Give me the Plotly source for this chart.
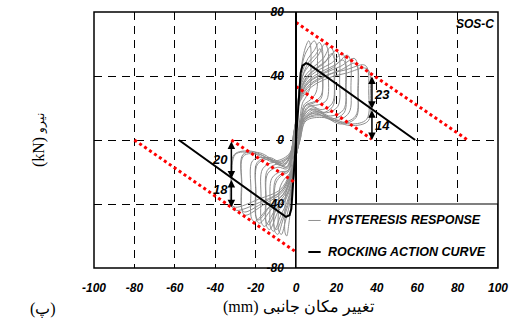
import plotly.graph_objects as go

# ---------------- data ----------------
x_ticks = [-100, -80, -60, -40, -20, 0, 20, 40, 60, 80, 100]
y_ticks = [-80, -40, 0, 40, 80]

# hysteresis response (continuous path, cycle by cycle)
hyst_c1 = [(-1.2,-22),(-0.2,0),(1.0,22),(2.2,40),(3.5,52),(5.0,59),(6.3,62),(7.2,59),(7.4,48),(7.0,33),(5.0,27),(3.2,23),(2.0,14),(0.8,2),(-0.4,-12),(-1.5,-28),(-2.6,-42),(-3.6,-53),(-4.6,-60),(-5.4,-58),(-5.5,-46),(-5.0,-33),(-3.5,-26),(-2.2,-20),(-1.2,-10),(-0.2,4),(0.8,20)]
hyst_c2 = [(1.8,36),(3.2,48),(5.0,55),(7.0,59),(9.0,62),(10.3,59),(10.6,46),(10.0,30),(7.0,25),(4.0,22),(2.4,13),(1.0,0),(-0.5,-16),(-1.8,-30),(-3.5,-42),(-5.5,-52),(-7.2,-59),(-8.5,-57),(-8.7,-44),(-8.0,-30),(-5.5,-24),(-3.2,-21),(-1.8,-12),(-0.5,2),(0.7,18)]
hyst_c3 = [(1.8,33),(3.5,44),(6.0,51),(9.0,56),(11.5,61),(12.9,58),(13.2,44),(12.5,28),(9.0,24),(5.0,22),(2.8,14),(1.2,0),(-0.4,-15),(-2.0,-30),(-4.0,-41),(-6.5,-50),(-9.0,-59),(-10.5,-57),(-10.8,-42),(-10.0,-27),(-7.0,-22),(-3.8,-20),(-2.0,-11),(-0.6,3),(0.6,17)]
hyst_c3b = [(1.8,31),(3.8,42),(6.5,49),(9.5,53),(11.8,57),(13.0,54),(13.2,40),(12.4,26),(8.5,23),(4.5,21),(2.6,13),(1.1,0),(-0.5,-15),(-2.1,-29),(-4.2,-40),(-7.0,-49),(-9.5,-56),(-10.8,-54),(-11.0,-40),(-10.2,-25),(-7.0,-21),(-3.8,-19),(-2.0,-10),(-0.6,3),(0.6,17)]
hyst_c4 = [(1.8,32),(4.0,42),(7.5,48),(11.0,53),(14.2,60),(15.7,57),(16.0,42),(15.2,25),(11.0,22),(6.0,21),(3.0,14),(1.3,0),(-0.5,-15),(-2.2,-29),(-4.5,-39),(-7.5,-47),(-11.0,-57),(-12.5,-55),(-12.8,-40),(-12.0,-24),(-8.0,-20),(-4.0,-19),(-2.1,-10),(-0.7,3),(0.5,16)]
hyst_c5 = [(1.8,31),(4.5,40),(9.0,46),(13.5,51),(17.0,58),(18.6,55),(18.9,40),(18.0,23),(13.0,19),(7.0,21),(3.2,14),(1.4,0),(-0.6,-15),(-2.4,-28),(-5.0,-37),(-9.0,-45),(-13.0,-56),(-14.5,-54),(-14.8,-38),(-14.0,-21),(-9.0,-17),(-4.5,-18),(-2.2,-9),(-0.8,3),(0.4,15)]
hyst_c5b = [(1.8,29),(4.8,38),(9.5,44),(14.0,48),(17.5,54),(18.9,51),(19.1,37),(18.2,21),(13.0,17),(7.0,19),(3.2,13),(1.4,0),(-0.6,-14),(-2.4,-27),(-5.2,-36),(-9.5,-43),(-13.5,-53),(-14.8,-51),(-15.0,-36),(-14.2,-19),(-9.0,-15),(-4.5,-17),(-2.2,-9),(-0.8,3),(0.4,15)]
hyst_c6 = [(1.9,30),(5.0,39),(10.0,45),(15.5,50),(19.8,56),(21.3,53),(21.6,38),(20.7,21),(15.0,17),(8.0,20),(3.4,14),(1.5,0),(-0.7,-15),(-2.6,-27),(-5.5,-36),(-10.5,-44),(-15.5,-54),(-17.0,-52),(-17.3,-36),(-16.5,-18),(-11.0,-14),(-5.0,-17),(-2.3,-9),(-0.9,3),(0.3,14)]
hyst_c7 = [(2.0,29),(5.5,38),(11.5,44),(17.5,48),(22.8,54),(24.3,51),(24.6,36),(23.6,19),(17.0,15),(9.0,19),(3.6,13),(1.6,0),(-0.8,-15),(-2.8,-26),(-6.0,-35),(-12.0,-43),(-18.0,-52),(-19.5,-50),(-19.8,-34),(-19.0,-15),(-13.0,-12),(-6.0,-16),(-2.5,-9),(-1.0,3),(0.2,14)]
hyst_c7b = [(2.0,27),(6.0,36),(12.0,41),(18.0,45),(23.2,50),(24.6,47),(24.8,33),(23.8,17),(17.0,13),(9.0,17),(3.6,12),(1.6,0),(-0.8,-14),(-2.8,-25),(-6.2,-34),(-12.5,-41),(-18.5,-50),(-19.8,-48),(-20.0,-32),(-19.2,-14),(-13.0,-11),(-6.0,-15),(-2.5,-9),(-1.0,3),(0.2,14)]
hyst_c8 = [(2.0,28),(6.0,37),(13.0,43),(19.5,47),(25.4,53),(26.9,50),(27.2,34),(26.2,17),(19.0,12),(10.0,18),(3.8,13),(1.7,0),(-0.9,-15),(-3.0,-25),(-6.5,-34),(-13.5,-42),(-20.5,-51),(-22.0,-49),(-22.3,-32),(-21.5,-13),(-15.0,-11),(-7.0,-16),(-2.7,-9),(-1.1,3),(0.1,13)]
hyst_c9 = [(2.0,27),(6.5,36),(14.5,42),(22.0,46),(28.8,51),(30.3,48),(30.6,32),(29.5,15),(22.0,11),(11.0,17),(4.0,13),(1.8,0),(-1.0,-15),(-3.2,-24),(-7.0,-33),(-15.5,-40),(-25.0,-47),(-26.5,-45),(-26.8,-28),(-26.0,-10),(-18.0,-9),(-8.0,-15),(-2.9,-9),(-1.2,3),(0.0,12)]
hyst_c9b = [(2.0,25),(7.0,34),(15.0,40),(22.5,44),(29.2,48),(30.6,45),(30.8,30),(29.7,14),(22.0,10),(11.0,16),(4.0,12),(1.8,0),(-1.0,-14),(-3.2,-23),(-7.2,-32),(-16.0,-39),(-25.5,-45),(-26.8,-43),(-27.0,-27),(-26.2,-9),(-18.0,-8),(-8.0,-14),(-2.9,-9),(-1.2,3),(0.0,12)]
hyst_c10 = [(2.0,26),(7.0,35),(16.0,41),(25.0,44),(33.5,47),(35.3,45),(36.0,30),(35.0,13),(27.0,10),(14.0,15),(5.0,13),(2.0,0),(-1.1,-15),(-3.4,-23),(-7.5,-32),(-18.0,-39),(-29.5,-44),(-31.5,-42),(-31.8,-25),(-30.0,-9),(-22.0,-8),(-10.0,-14),(-3.0,-9),(-1.3,3),(0.0,12)]
hyst_c10b = [(2.0,24),(7.5,33),(16.5,39),(25.5,42),(34.0,45),(36.2,43),(36.8,28),(35.8,12),(27.0,9),(14.0,14),(5.0,12),(2.0,0),(-1.1,-14),(-3.4,-22),(-7.8,-31),(-18.5,-37),(-30.0,-42),(-32.0,-40),(-32.2,-24),(-30.5,-9),(-22.0,-7),(-10.0,-13),(-3.0,-8),(-1.3,3),(0.5,18)]
hyst_cycles = [hyst_c1, hyst_c2, hyst_c3, hyst_c3b, hyst_c4, hyst_c5, hyst_c5b, hyst_c6,
               hyst_c7, hyst_c7b, hyst_c8, hyst_c9, hyst_c9b, hyst_c10, hyst_c10b]

# rocking action curve
rock_x = [-58, -6.5, -5.0, -3.2, -2.3, 2.3, 3.2, 5.0, 6.5, 59]
rock_y = [0, -47, -48, -47, -43, 42, 46.5, 48, 47.2, 0]

# red dotted bounds
red_outer_up_x, red_outer_up_y = [0, 85], [73.5, 0]
red_inner_up_x, red_inner_up_y = [0, 37.5], [33.5, 0.5]
red_outer_lo_x, red_outer_lo_y = [-80, 0], [0, -70]
red_inner_lo_x, red_inner_lo_y = [-32, 0], [0, -27]

# dimension arrows
arrow_x = [37.6, 37.6, -32, -32]
arrow_y0 = [40.7, 19.5, 0, -24]
arrow_y1 = [19.5, 0, -24, -42]
arrow_labels = ["23", "14", "20", "18"]
arrow_label_x = [42.8, 42.8, -37.8, -37.5]
arrow_label_y = [28.7, 9, -12, -31]

# ---------------- figure ----------------
hx, hy = [], []
for cyc in hyst_cycles:
    for px, py in cyc:
        hx.append(px)
        hy.append(py)

BI = dict(family="Liberation Sans, Arial", weight="bold", style="italic", color="black")
PW = 404.5   # plot width (px)
PH = 255.4   # plot height (px)

fig = go.Figure()
fig.add_trace(go.Scatter(x=hx, y=hy, mode="lines", name="HYSTERESIS RESPONSE",
                         line=dict(color="#8f8f8f", width=1, shape="spline", smoothing=1.0),
                         showlegend=False, hoverinfo="skip"))
fig.add_trace(go.Scatter(x=rock_x, y=rock_y, mode="lines", name="ROCKING ACTION CURVE",
                         line=dict(color="black", width=2), showlegend=False))
for rx, ry in [(red_outer_up_x, red_outer_up_y), (red_inner_up_x, red_inner_up_y),
               (red_outer_lo_x, red_outer_lo_y), (red_inner_lo_x, red_inner_lo_y)]:
    fig.add_trace(go.Scatter(x=rx, y=ry, mode="lines", showlegend=False,
                             line=dict(color="#ff0000", width=3, dash="3px,3px")))

annotations = []
for ax_, y0, y1 in zip(arrow_x, arrow_y0, arrow_y1):
    annotations.append(dict(x=ax_, y=y1, ax=ax_, ay=y0, xref="x", yref="y", axref="x", ayref="y",
                            text="", showarrow=True, arrowhead=2, arrowside="end+start",
                            arrowsize=1, arrowwidth=1.5, arrowcolor="black"))
for t, lx, ly in zip(arrow_labels, arrow_label_x, arrow_label_y):
    annotations.append(dict(x=lx, y=ly, xref="x", yref="y", text=t, showarrow=False,
                            font=dict(size=13, **BI)))
annotations.append(dict(x=88.6, y=72.7, xref="x", yref="y", text="SOS-C", showarrow=False,
                        font=dict(size=12, **BI)))
# legend texts
annotations.append(dict(x=14.7, y=-50.3, xref="x", yref="y", text="HYSTERESIS RESPONSE",
                        xanchor="left", showarrow=False, font=dict(size=12.5, **BI)))
annotations.append(dict(x=14.7, y=-70, xref="x", yref="y", text="ROCKING ACTION CURVE",
                        xanchor="left", showarrow=False, font=dict(size=12.5, **BI)))
# axis titles
annotations.append(dict(x=(28-94)/PW, y=0.5, xref="paper", yref="paper",
                        text="(kN) <span style='font-size:12px'>نیرو</span>",
                        textangle=-90, showarrow=False,
                        font=dict(family="Liberation Serif, DejaVu Serif", size=16, color="black")))
annotations.append(dict(x=(299-94)/PW, y=-(318-267.7)/PH, xref="paper", yref="paper",
                        text="(mm) تغییر مکان جانبی", showarrow=False,
                        font=dict(family="Liberation Serif, DejaVu Serif", size=16, color="black")))
annotations.append(dict(x=(28-94)/PW, y=-(320-267.7)/PH, xref="paper", yref="paper",
                        text="(پ)", showarrow=False,
                        font=dict(family="Liberation Serif, DejaVu Serif", size=16, color="black")))

shapes = [
    dict(type="rect", xref="x", yref="y", x0=0, x1=100, y0=-80, y1=-40,
         fillcolor="white", line=dict(color="black", width=1.2), layer="above"),
    dict(type="line", xref="x", yref="y", x0=6.1, x1=12.2, y0=-50.3, y1=-50.3,
         line=dict(color="#8f8f8f", width=1), layer="above"),
    dict(type="line", xref="x", yref="y", x0=6.1, x1=12.2, y0=-70, y1=-70,
         line=dict(color="black", width=2), layer="above"),
    dict(type="rect", xref="paper", yref="paper", x0=0, x1=1, y0=0, y1=1,
         line=dict(color="black", width=1.5), layer="above"),
]

fig.update_layout(
    width=511, height=330,
    margin=dict(l=94, r=12.5, t=12.3, b=62.3, autoexpand=False),
    paper_bgcolor="white", plot_bgcolor="white",
    showlegend=False,
    annotations=annotations,
    shapes=shapes,
    xaxis=dict(range=[-100, 100], tickvals=x_ticks, ticktext=[str(v) for v in x_ticks],
               automargin=False, ticklabeloverflow="allow",
               showgrid=True, gridcolor="black", gridwidth=1, griddash="8px,6px",
               zeroline=False, showline=False, ticks="", ticklabelstandoff=11,
               tickfont=dict(size=12, **BI)),
    yaxis=dict(range=[-80, 80], tickvals=y_ticks, ticktext=[str(v) for v in y_ticks],
               automargin=False, anchor="free", position=0.5, ticklabeloverflow="allow",
               showgrid=True, gridcolor="black", gridwidth=1, griddash="8px,6px",
               zeroline=False, showline=True, linecolor="black", linewidth=1.5,
               ticks="", ticklabelstandoff=9,
               tickfont=dict(size=12, **BI)),
)

# remove the browser's default 8px body margin so the 511x330 figure fills the window
fig.write_html("out.html",
               config={"displayModeBar": False},
               post_script="document.body.style.margin='0';document.body.style.overflow='hidden';")
